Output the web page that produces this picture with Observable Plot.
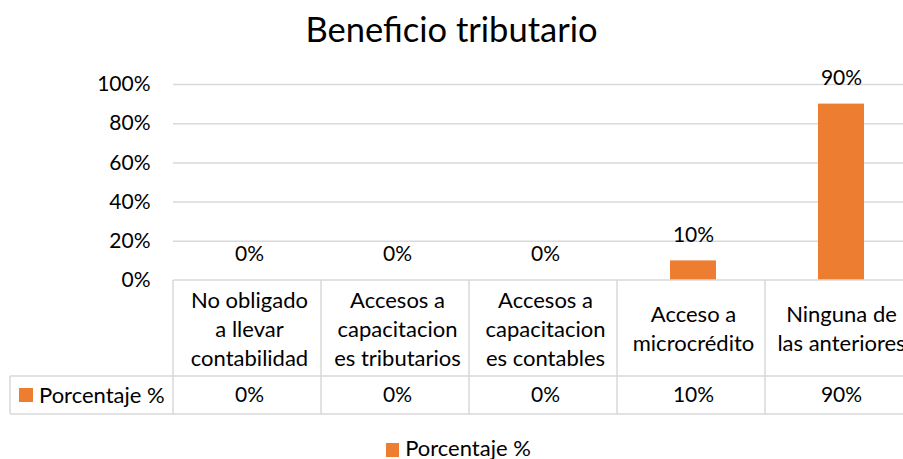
<!DOCTYPE html>
<html><head><meta charset="utf-8">
<script src="https://cdn.jsdelivr.net/npm/d3@7"></script>
<script src="https://cdn.jsdelivr.net/npm/@observablehq/plot@0.6"></script>
<style>
html,body{margin:0;padding:0;background:#fff}
body{font-family:Lato,sans-serif;color:#000;width:903px;height:459px;overflow:hidden}
#title{height:62px;box-sizing:border-box;padding-top:12px;font-size:34.5px;line-height:1;text-align:center;white-space:nowrap}
#chart svg{display:block;overflow:visible}
#legend{height:27px;display:flex;justify-content:center;align-items:flex-end;font-size:22px;line-height:1;padding-left:14px;box-sizing:border-box}
#legend .key{display:inline-block;width:13px;height:14px;background:#ED7D31;margin-right:6px;margin-bottom:2px}
</style></head><body>
<div id="title">Beneficio tributario</div>
<div id="chart"></div>
<div id="legend"><span class="key"></span><span id="legtext"></span></div>
<script>
const categories = ["No obligado\na llevar\ncontabilidad", "Accesos a\ncapacitacion\nes tributarios", "Accesos a\ncapacitacion\nes contables", "Acceso a\nmicrocrédito", "Ninguna de\nlas anteriores"];
const values = [0, 0, 0, 0.10, 0.90];
const valueLabels = ["0%", "0%", "0%", "10%", "90%"];
const yTicks = [0, 0.2, 0.4, 0.6, 0.8, 1];
const seriesName = "Porcentaje %";
const barColor = "#ED7D31";

const data = categories.map((c, i) => ({cat: c, value: values[i], label: valueLabels[i]}));

const chart = Plot.plot({
  width: 903, height: 370,
  marginTop: 22, marginBottom: 152, marginLeft: 173, marginRight: 0,
  style: {fontFamily: "Lato, sans-serif", fontSize: "21px", color: "#000", background: "transparent"},
  x: {domain: categories, range: [173, 916], paddingInner: 0.69, paddingOuter: 0.345, axis: null},
  y: {domain: [0, 1], ticks: yTicks, tickFormat: d3.format(".0%"), label: null, tickSize: 0, tickPadding: 23},
  marks: [
    Plot.gridY(yTicks.filter(t => t > 0), {stroke: "#d9d9d9", strokeOpacity: 1, strokeWidth: 1.5}),
    Plot.barY(data, {x: "cat", y: "value", fill: barColor}),
    Plot.text(data, {x: "cat", y: "value", text: "label", dy: -26, lineAnchor: "middle", fill: "#000"}),
    Plot.text(data, {x: "cat", text: "cat", frameAnchor: "bottom", dy: 47, lineAnchor: "middle", lineHeight: 1.32, fontSize: 22, fill: "#000"}),
    Plot.text(data, {x: "cat", text: "label", frameAnchor: "bottom", dy: 115, lineAnchor: "middle", fill: "#000"})
  ]
});
document.getElementById("chart").appendChild(chart);

// data table grid drawn from the x scale
const xs = chart.scale("x");
const ys = chart.scale("y");
const svg = d3.select(chart);
const tTop = ys.apply(0), headerBottom = tTop + 96, rowBottom = tTop + 134, keyLeft = 10;
const x0 = xs.range[0], step = xs.step, n = categories.length;
const g = svg.append("g").attr("stroke", "#d9d9d9").attr("stroke-width", 1.5).attr("fill", "none");
g.append("line").attr("x1", x0).attr("x2", x0 + n * step).attr("y1", tTop).attr("y2", tTop);
g.append("line").attr("x1", keyLeft).attr("x2", x0 + n * step).attr("y1", headerBottom).attr("y2", headerBottom);
g.append("line").attr("x1", keyLeft).attr("x2", x0 + n * step).attr("y1", rowBottom).attr("y2", rowBottom);
g.append("line").attr("x1", keyLeft).attr("x2", keyLeft).attr("y1", headerBottom).attr("y2", rowBottom);
for (let i = 0; i <= n; i++) {
  g.append("line").attr("x1", x0 + i * step).attr("x2", x0 + i * step).attr("y1", tTop).attr("y2", rowBottom);
}
const keyY = (headerBottom + rowBottom) / 2;
svg.append("rect").attr("x", 19).attr("y", keyY - 7).attr("width", 14).attr("height", 14).attr("fill", barColor);
svg.append("text").attr("x", 39).attr("y", keyY).attr("dy", "0.35em").attr("text-anchor", "start").attr("font-size", 22).attr("fill", "#000").text(seriesName);
document.getElementById("legtext").textContent = seriesName;
</script>
</body></html>
